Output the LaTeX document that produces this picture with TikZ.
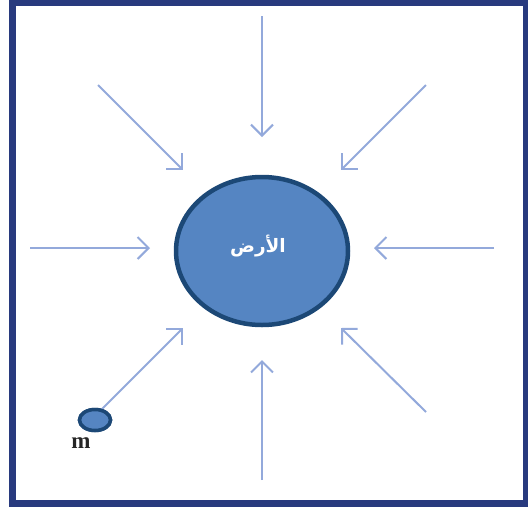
\documentclass[tikz,border=0pt]{standalone}
\usepackage{fontspec}
\setmainfont{Liberation Serif}
\newfontfamily\arabicfont[Script=Arabic]{DejaVu Sans}
\TeXXeTstate=1
\usetikzlibrary{arrows.meta,shapes.geometric}
\definecolor{framecol}{HTML}{283A7E}
\definecolor{arrcol}{HTML}{93A9DB}
\definecolor{earthfill}{HTML}{5585C2}
\definecolor{earthline}{HTML}{1C4876}
\tikzset{
  pull/.style={draw=arrcol, line width=2pt, -{Straight Barb[length=11pt,width=22pt,line width=2pt]}},
  body/.style={ellipse, draw=earthline, fill=earthfill, inner sep=0pt},
}
\begin{document}
\begin{tikzpicture}[x=1pt,y=-1pt]
\useasboundingbox (0,0) rectangle (528,507);
\draw[framecol, line width=7pt] (12.5,2.5) rectangle (526,503.5);
\node[body, line width=4.5pt, minimum width=172pt, minimum height=148pt] (earth) at (262,251) {};
\node[text=white, font=\arabicfont\bfseries\fontsize{18.5}{22}\selectfont] (label) at (258,246) {\beginR الأرض\endR};
\node[body, line width=3.5pt, minimum width=31pt, minimum height=21pt] (mass) at (95,420) {};
\node[font=\bfseries\fontsize{23}{26}\selectfont, text=black!85] (mlabel) at (81,443) {m};
\coordinate (t0) at (262,16);   \coordinate (t1) at (262,137);
\coordinate (b0) at (262,480);  \coordinate (b1) at (262,360);
\coordinate (l0) at (30,248);   \coordinate (l1) at (150,248);
\coordinate (r0) at (494,248);  \coordinate (r1) at (374,248);
\coordinate (tl0) at (98,85);   \coordinate (tl1) at (183,170);
\coordinate (tr0) at (426,85);  \coordinate (tr1) at (341,170);
\coordinate (bl0) at (102,409); \coordinate (bl1) at (183,328);
\coordinate (br0) at (426,412); \coordinate (br1) at (341,328);
\draw[pull] (t0) -- (t1);
\draw[pull] (b0) -- (b1);
\draw[pull] (l0) -- (l1);
\draw[pull] (r0) -- (r1);
\draw[pull] (tl0) -- (tl1);
\draw[pull] (tr0) -- (tr1);
\draw[pull] (bl0) -- (bl1);
\draw[pull] (br0) -- (br1);
\node[body, line width=3.5pt, minimum width=31pt, minimum height=21pt] at (mass) {};
\end{tikzpicture}
\end{document}
